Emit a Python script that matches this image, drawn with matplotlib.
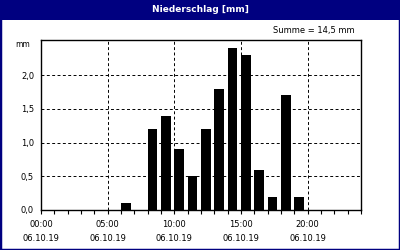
import matplotlib
matplotlib.use("Agg")
import matplotlib.pyplot as plt
from matplotlib.patches import Rectangle
from matplotlib.ticker import MultipleLocator

# hourly precipitation, 06.10.19
hours = [6, 8, 9, 10, 11, 12, 13, 14, 15, 16, 17, 18, 19]
rain = [0.1, 1.2, 1.4, 0.9, 0.5, 1.2, 1.8, 2.4, 2.3, 0.6, 0.2, 1.7, 0.2]
xticks = [0, 5, 10, 15, 20]
xlabels = ["00:00\n06.10.19", "05:00\n06.10.19", "10:00\n06.10.19",
           "15:00\n06.10.19", "20:00\n06.10.19"]
yticks = [0.0, 0.5, 1.0, 1.5, 2.0]
ylabels = ["0,0", "0,5", "1,0", "1,5", "2,0"]
title = "Niederschlag [mm]"
summe = "Summe = 14,5 mm"

navy = "#000080"
plt.rcParams["font.family"] = "DejaVu Sans"

fig = plt.figure(figsize=(4, 2.5), dpi=100)
ax = fig.add_axes([41/400, 40/250, 320/400, 170/250])

ax.bar(hours, rain, width=0.72, align="edge", color="black", zorder=3)

ax.set_xlim(0, 24)
ax.set_ylim(0, 2.52)
ax.set_xticks(xticks)
ax.set_xticklabels(xlabels, fontsize=6, linespacing=1.75)
ax.xaxis.set_minor_locator(MultipleLocator(1))
ax.set_yticks(yticks)
ax.set_yticklabels(ylabels, fontsize=6)
ax.tick_params(axis="x", which="both", length=3, width=0.8, pad=4)
ax.tick_params(axis="y", length=0, pad=5)
ax.grid(True, which="major", color="black", linestyle=(0, (3, 2.5)), linewidth=0.7, zorder=1)
for s in ax.spines.values():
    s.set_linewidth(1)
    s.set_color("black")

ax.text(-0.035, 1.0, "mm", transform=ax.transAxes, fontsize=5.5, ha="right", va="top")
ax.text(0.98, 1.03, summe, transform=ax.transAxes, fontsize=6, ha="right", va="bottom")

# title bar and frame
fig.patches.append(Rectangle((0, 230/250), 1, 20/250, transform=fig.transFigure,
                             facecolor=navy, edgecolor="none", zorder=0))
fig.patches.append(Rectangle((0, 0), 1, 1, transform=fig.transFigure,
                             facecolor="none", edgecolor=navy, linewidth=2.5, zorder=5))
fig.text(0.5, 240/250, title, color="white", fontsize=6.5, fontweight="bold",
         ha="center", va="center")

fig.savefig("out.png", dpi=100)
